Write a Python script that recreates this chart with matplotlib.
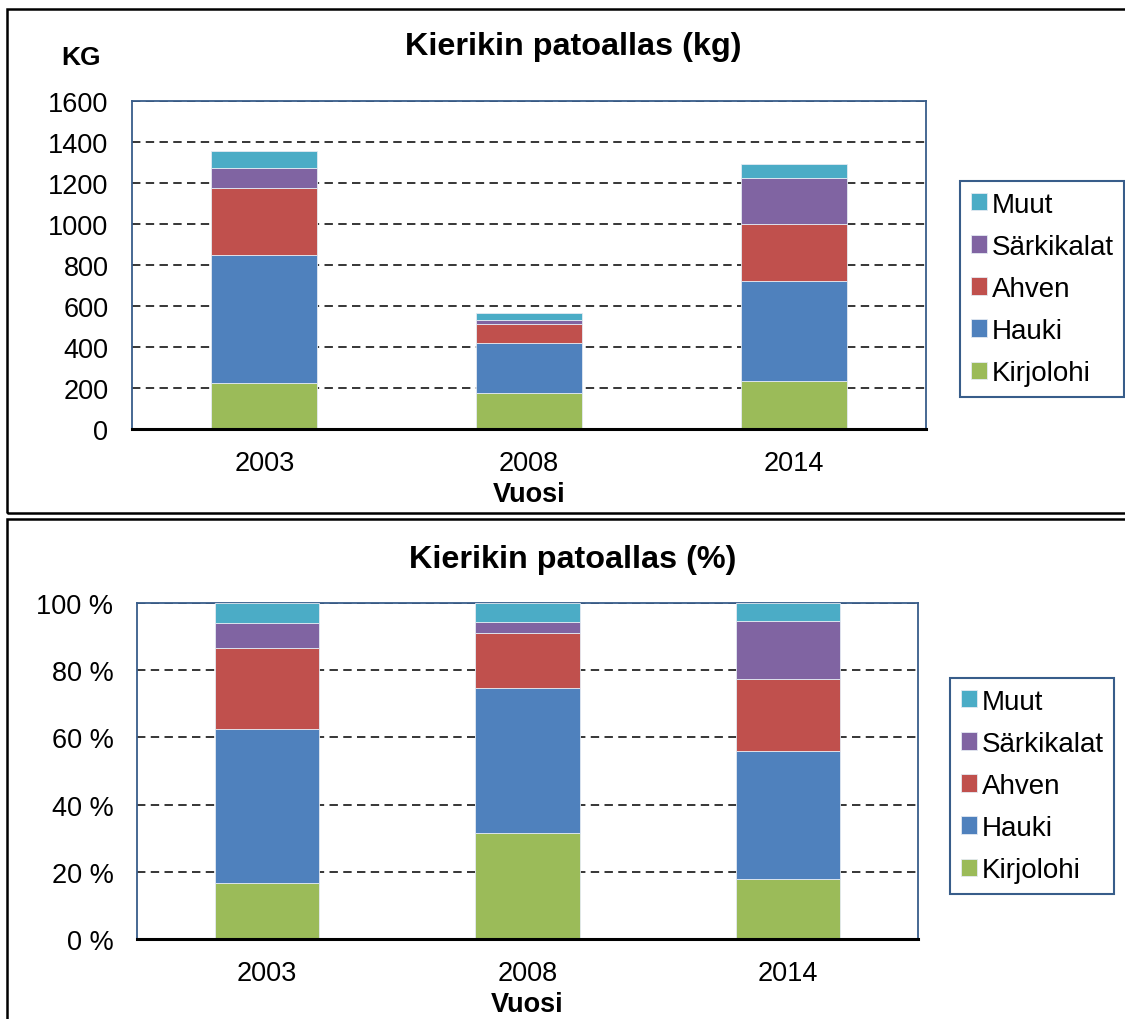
import numpy as np
import matplotlib
matplotlib.use("Agg")
import matplotlib.pyplot as plt
from matplotlib.patches import Rectangle

plt.rcParams['font.family'] = ['Liberation Sans', 'DejaVu Sans']

# data (kg)
years = ["2003", "2008", "2014"]
species = ["Kirjolohi", "Hauki", "Ahven", "Särkikalat", "Muut"]
kirjolohi = [225, 178, 232]
hauki = [625, 243, 490]
ahven = [324, 92, 278]
sarkikalat = [101, 19, 223]
muut = [82, 32, 70]
colors = ["#9BBB59", "#4F81BD", "#C0504D", "#8064A2", "#4BACC6"]

kg_ticks = [0, 200, 400, 600, 800, 1000, 1200, 1400, 1600]
pct_ticks = [0, 20, 40, 60, 80, 100]

series = np.array([kirjolohi, hauki, ahven, sarkikalat, muut], dtype=float)
totals = series.sum(axis=0)
percent = series / totals * 100

W, H = 1125, 1020
fig = plt.figure(figsize=(W / 100, H / 100), dpi=100)


def fx(px):
    return px / W


def fy(py):
    return 1 - py / H


# panel borders
for top, bottom in [(10, 514), (520, 1030)]:
    fig.patches.append(Rectangle((fx(7), fy(bottom)), fx(1130) - fx(7), fy(top) - fy(bottom),
                                 transform=fig.transFigure, fill=False,
                                 edgecolor="black", linewidth=1.8, zorder=0))


def draw(ax, data, ticks, labels, legend_xy, xlabel_pad):
    x = np.arange(len(years))
    bottom = np.zeros(len(years))
    handles = []
    for name, vals, c in zip(species, data, colors):
        b = ax.bar(x, vals, 0.4, bottom=bottom, color=c, label=name,
                   edgecolor="#e4eaf2", linewidth=0.6, zorder=3)
        handles.append(b)
        bottom = bottom + vals

    ax.set_xlim(-0.5, len(years) - 0.5)
    ax.set_ylim(ticks[0], ticks[-1])
    ax.set_yticks(ticks)
    ax.set_yticklabels(labels)
    ax.set_xticks(x)
    ax.set_xticklabels(years)
    ax.tick_params(length=0, labelsize=19.5)
    ax.tick_params(axis="y", pad=17)
    ax.tick_params(axis="x", pad=15)

    for t in ticks[1:]:
        ax.axhline(t, color="black", linewidth=1.1, linestyle=(0, (5.5, 3.5)), zorder=2)

    for s in ["left", "top", "right"]:
        ax.spines[s].set_color("#385d8a")
        ax.spines[s].set_linewidth(1.3)
    ax.spines["bottom"].set_color("black")
    ax.spines["bottom"].set_linewidth(2.2)
    ax.spines["bottom"].set_zorder(5)

    ax.set_xlabel("Vuosi", fontsize=19.5, fontweight="bold", labelpad=xlabel_pad)

    leg = fig.legend(handles[::-1], species[::-1], loc="upper left",
                     bbox_to_anchor=legend_xy, fontsize=20, frameon=True,
                     fancybox=False, framealpha=1, borderpad=0.38,
                     labelspacing=0.58, handlelength=0.58, handleheight=0.58,
                     handletextpad=0.18, borderaxespad=0)
    leg.get_frame().set_edgecolor("#385d8a")
    leg.get_frame().set_linewidth(1.5)


# top chart: kg
ax1 = fig.add_axes([fx(132), fy(430), fx(926) - fx(132), fy(102) - fy(430)])
draw(ax1, series, kg_ticks, [str(t) for t in kg_ticks], (fx(960), fy(182)), 4)
fig.text(fx(573), fy(47), "Kierikin patoallas (kg)", ha="center", va="center",
         fontsize=23.3, fontweight="bold")
fig.text(fx(81), fy(58), "KG", ha="center", va="center", fontsize=19, fontweight="bold")

# bottom chart: %
ax2 = fig.add_axes([fx(137), fy(940), fx(918) - fx(137), fy(604) - fy(940)])
draw(ax2, percent, pct_ticks, [f"{t} %" for t in pct_ticks], (fx(950), fy(679)), 4)
fig.text(fx(573), fy(560), "Kierikin patoallas (%)", ha="center", va="center",
         fontsize=23.3, fontweight="bold")

fig.savefig("out.png", dpi=100)
